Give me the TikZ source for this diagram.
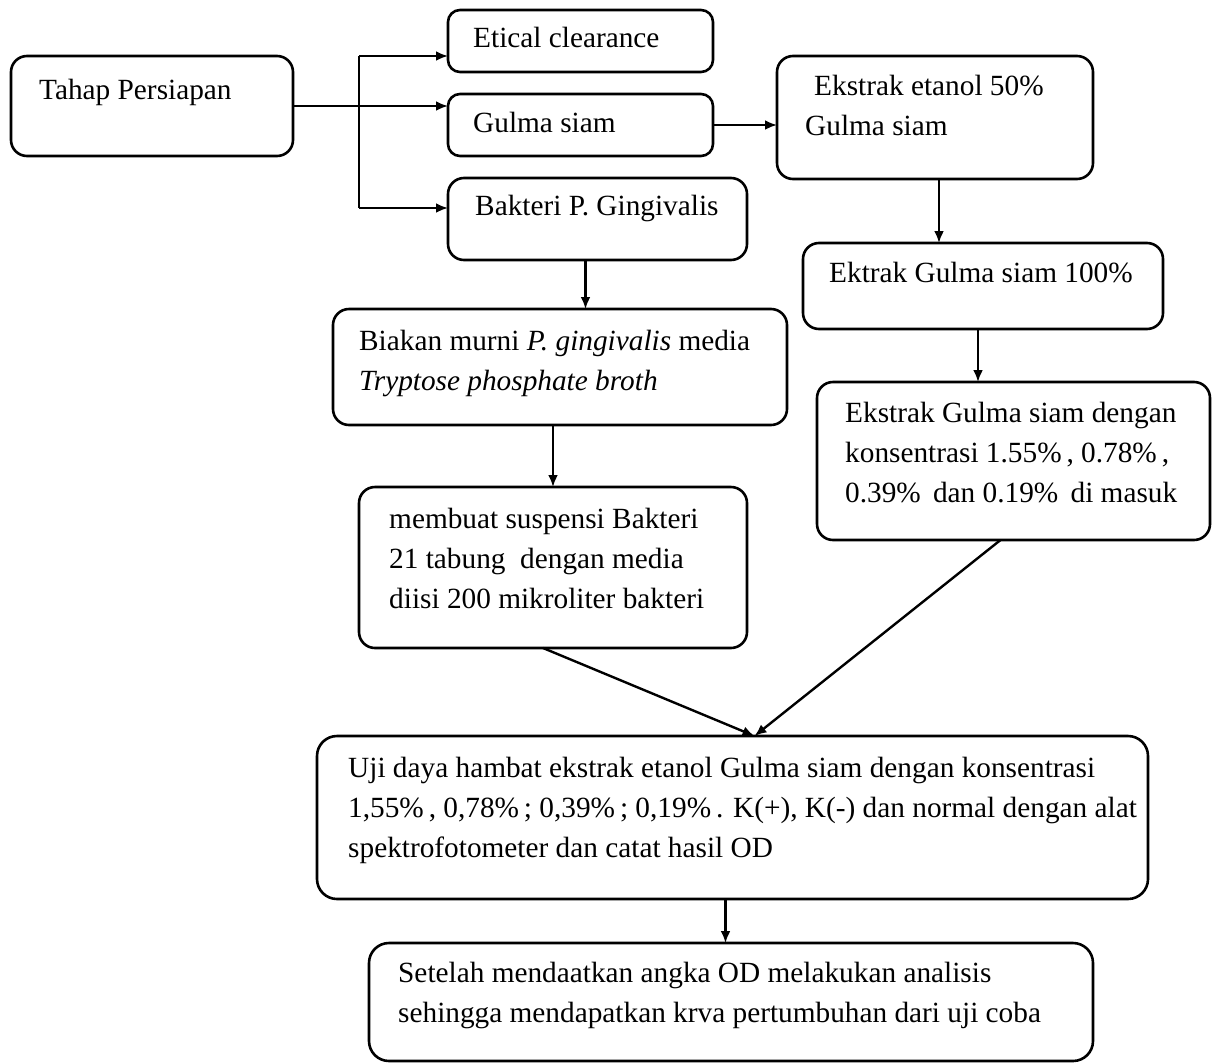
\documentclass[tikz,border=0pt]{standalone}
\usepackage{fontspec}
\setmainfont{Liberation Serif}
\usepackage{tikz}
\usetikzlibrary{arrows.meta}
\usetikzlibrary{positioning}
\tikzset{
    box/.style={draw=black, line width=2.6pt, rounded corners=16pt, inner sep=0pt, outer sep=0pt, anchor=north west},
    smallbox/.style={box, rounded corners=12pt},
    txt/.style={anchor=north west, inner sep=0pt, align=left, font=\fontsize{29.3}{40}\selectfont},
    arrow/.style={draw=black, -{Latex[length=12pt,width=10pt]}},
    link/.style={draw=black},
}
\begin{document}
\begin{tikzpicture}[x=1pt, y=-1pt, line width=2.4pt]
	\useasboundingbox (0,0) rectangle (1217,1063);
	% boxes
	\node[box, minimum width=282pt, minimum height=100pt] (tahap) at (11,56) {};
	\node[smallbox, minimum width=265pt, minimum height=62pt] (etical) at (448,10) {};
	\node[smallbox, minimum width=265pt, minimum height=62pt] (gulma) at (448,94) {};
	\node[box, minimum width=299pt, minimum height=82pt] (bakteri) at (448,178) {};
	\node[box, minimum width=316pt, minimum height=123pt] (ekstrak) at (777,56) {};
	\node[box, minimum width=360pt, minimum height=86pt] (ektrak) at (803,243) {};
	\node[box, minimum width=454pt, minimum height=116pt] (biakan) at (333,309) {};
	\node[box, minimum width=393pt, minimum height=158pt] (kons) at (817,382) {};
	\node[box, minimum width=388pt, minimum height=161pt] (suspensi) at (359,487) {};
	\node[box, rounded corners=20pt, minimum width=831pt, minimum height=163pt] (uji) at (317,736) {};
	\node[box, rounded corners=20pt, minimum width=724pt, minimum height=118pt] (setelah) at (369,943) {};
	% texts
	\node[txt] (tahaptxt) at (38,70) {\strut Tahap Persiapan};
	\node[txt] (eticaltxt) at (472,18) {\strut Etical clearance};
	\node[txt] (gulmatxt) at (472,103) {\strut Gulma siam};
	\node[txt] (bakteritxt) at (474,186) {\strut Bakteri P. Gingivalis};
	\node[txt] (ekstraktxt) at (804,66) {\strut\hspace*{9pt}Ekstrak etanol 50\%\\Gulma siam};
	\node[txt] (ektraktxt) at (828,253) {\strut Ektrak Gulma siam 100\%};
	\node[txt] (biakantxt) at (358,321) {\strut Biakan murni \textit{P. gingivalis} media\\\textit{Tryptose phosphate broth}};
	\node[txt] (konstxt) at (844,393) {\strut Ekstrak Gulma siam dengan\\konsentrasi 1.55\%\,, 0.78\%\,,\\0.39\%\ \,dan 0.19\%\ \,di masuk};
	\node[txt] (suspensitxt) at (388,499) {\strut membuat suspensi Bakteri\\21 tabung\ \ dengan media\\diisi 200 mikroliter bakteri};
	\node[txt] (ujitxt) at (347,748) {\strut Uji daya hambat ekstrak etanol Gulma siam dengan konsentrasi\\1,55\%\,, 0,78\%\,; 0,39\%\,; 0,19\%\,. K(+), K(-) dan normal dengan alat\\spektrofotometer dan catat hasil OD};
	\node[txt] (setelahtxt) at (397,953) {\strut Setelah mendaatkan angka OD melakukan analisis\\sehingga mendapatkan krva pertumbuhan dari uji coba};
	% connectors
	\coordinate (bustop) at (359,56);
	\coordinate (busbot) at (359,208);
	\draw[link] (bustop) -- (busbot);
	\draw[arrow] (tahap.east) -- (tahap.east -| gulma.west);
	\draw[arrow] (bustop) -- (bustop -| etical.west);
	\draw[arrow] (busbot) -- (busbot -| bakteri.west);
	\draw[arrow] (gulma.east) -- (gulma.east -| ekstrak.west);
	\draw[arrow] ([xshift=4pt]ekstrak.south) -- ([xshift=4pt]ekstrak.south |- ektrak.north);
	\draw[arrow] ([xshift=-5pt]ektrak.south) -- ([xshift=-5pt]ektrak.south |- kons.north);
	\draw[arrow] ([xshift=-12pt]bakteri.south) -- ([xshift=-12pt]bakteri.south |- biakan.north);
	\draw[arrow] (suspensi.north |- biakan.south) -- (suspensi.north);
	\coordinate (meet) at ([xshift=22pt]uji.north);
	\draw[arrow] ([xshift=-10pt]suspensi.south) -- (meet);
	\draw[arrow] ([xshift=-13pt]kons.south) -- (meet);
	\draw[arrow] ([xshift=-7pt]uji.south) -- ([xshift=-7pt]uji.south |- setelah.north);
\end{tikzpicture}
\end{document}
